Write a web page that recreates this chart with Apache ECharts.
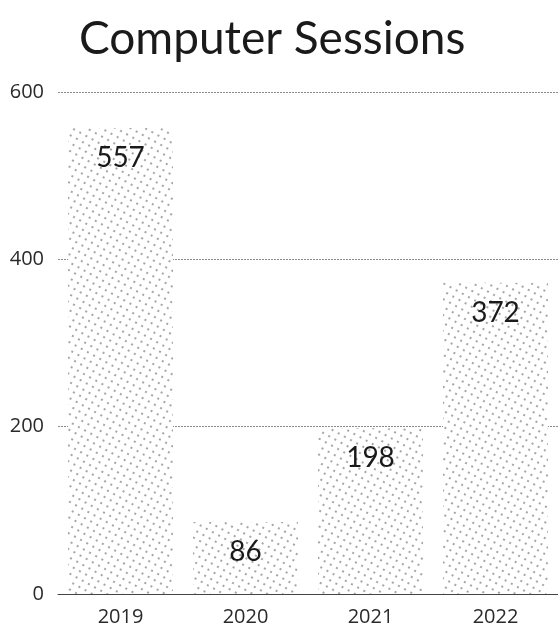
<!DOCTYPE html>
<html>
<head>
<meta charset="utf-8">
<title>Computer Sessions</title>
<script src="https://cdn.jsdelivr.net/npm/echarts@6/dist/echarts.min.js"></script>
<style>
  html, body { margin: 0; padding: 0; background: #fff; }
  #chart { width: 558px; height: 627px; }
</style>
</head>
<body>
<div id="chart"></div>
<script>
// Yearly session counts
const years = ['2019', '2020', '2021', '2022'];
const sessions = [557, 86, 198, 372];
const yTicks = { min: 0, max: 600, interval: 200 };

const chart = echarts.init(document.getElementById('chart'), null, { renderer: 'canvas' });

chart.setOption({
  backgroundColor: '#ffffff',
  animation: false,
  title: {
    text: 'Computer Sessions',
    left: 74,
    top: 11,
    textStyle: {
      fontFamily: 'Lato',
      fontWeight: 'normal',
      fontSize: 46,
      color: '#1a1a1a'
    }
  },
  grid: {
    left: 58,
    right: -8,
    top: 92,
    bottom: 32,
    containLabel: false
  },
  xAxis: {
    type: 'category',
    data: years,
    axisLine: { show: true, lineStyle: { color: '#444', width: 1 } },
    axisTick: { show: false },
    axisLabel: {
      margin: 13,
      fontFamily: 'Open Sans',
      fontSize: 20,
      color: '#2a2a2a'
    }
  },
  yAxis: {
    type: 'value',
    min: yTicks.min,
    max: yTicks.max,
    interval: yTicks.interval,
    axisLine: { show: false },
    axisTick: { show: false },
    axisLabel: {
      margin: 14,
      fontFamily: 'Open Sans',
      fontSize: 20,
      color: '#2a2a2a'
    },
    splitLine: {
      show: true,
      lineStyle: { color: '#8a8a8a', width: 1, type: [2, 1] }
    }
  },
  series: [{
    type: 'bar',
    data: sessions,
    barCategoryGap: '16%',
    itemStyle: {
      color: '#ffffff',
      decal: {
        symbol: 'rect',
        symbolSize: 1,
        dashArrayX: [1.2, 5],
        dashArrayY: [1.2, 5],
        rotation: 0.5,
        color: '#a6a6a6'
      }
    },
    label: {
      show: true,
      position: 'insideTop',
      distance: 16,
      fontFamily: 'Lato',
      fontSize: 28,
      color: '#1a1a1a'
    }
  }]
});
</script>
</body>
</html>
